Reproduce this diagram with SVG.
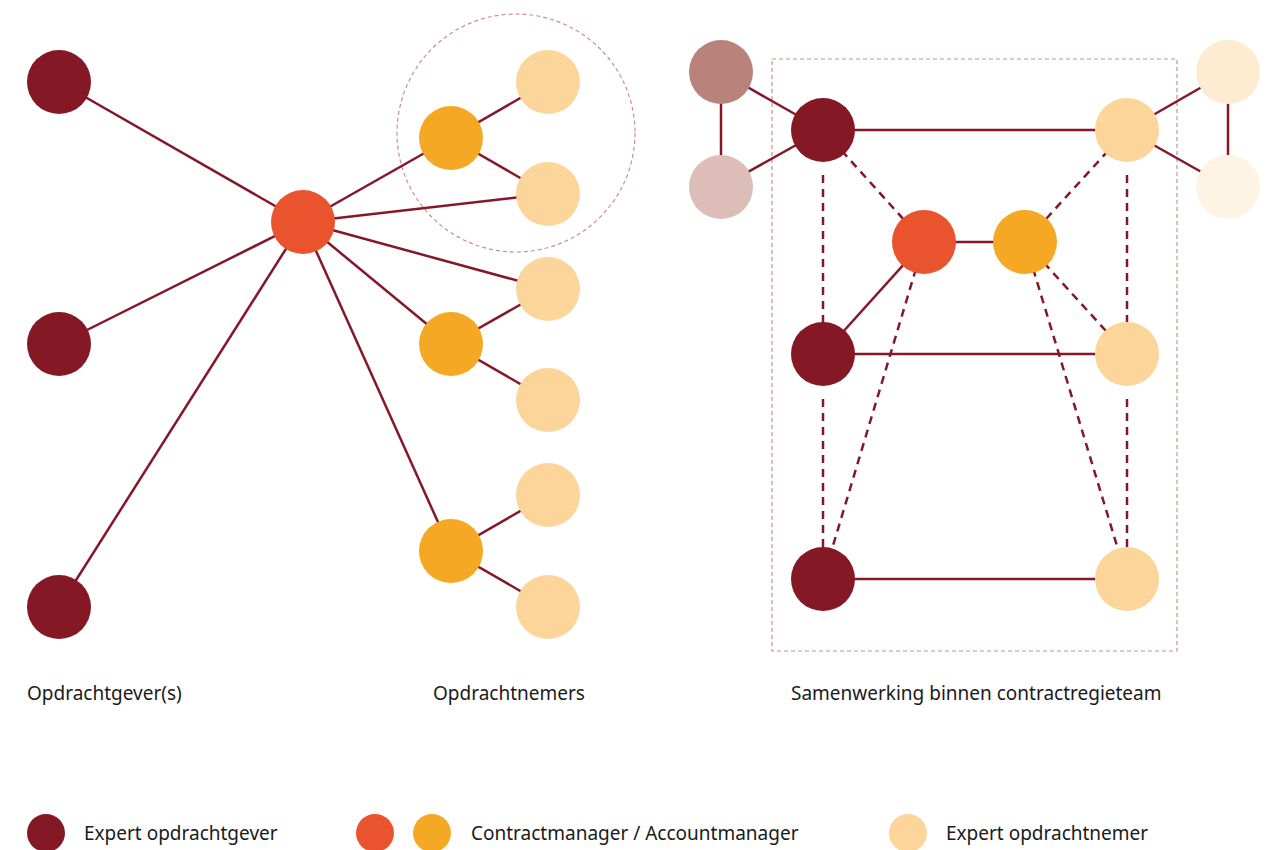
<svg xmlns="http://www.w3.org/2000/svg" width="1268" height="850" viewBox="0 0 1268 850">
<style>
.ln{stroke:#85172a;stroke-width:2.5;fill:none}
.ds{stroke:#85172a;stroke-width:2.5;fill:none;stroke-dasharray:8 6}
.bd{stroke:#c8908b;stroke-width:1.2;fill:none;stroke-dasharray:4 3}
.og{fill:#841824}
.cm{fill:#e9542e}
.am{fill:#f5a823}
.on{fill:#fcd59b}
text{font-family:"Noto Sans","Open Sans",sans-serif;font-size:19px;fill:#1a1a1a}
</style>
<rect width="1268" height="850" fill="#ffffff"/>
<g id="boundaries">
<circle class="bd" cx="516" cy="133" r="119"/>
<rect class="bd" x="772" y="59" width="405" height="592"/>
</g>
<g id="connectors">
<line class="ln" x1="303" y1="222" x2="59" y2="82"/>
<line class="ln" x1="303" y1="222" x2="59" y2="344"/>
<line class="ln" x1="303" y1="222" x2="59" y2="607"/>
<line class="ln" x1="303" y1="222" x2="451" y2="138"/>
<line class="ln" x1="303" y1="222" x2="548" y2="194"/>
<line class="ln" x1="303" y1="222" x2="548" y2="289"/>
<line class="ln" x1="303" y1="222" x2="451" y2="344"/>
<line class="ln" x1="303" y1="222" x2="451" y2="551"/>
<line class="ln" x1="451" y1="138" x2="548" y2="82"/>
<line class="ln" x1="451" y1="138" x2="548" y2="194"/>
<line class="ln" x1="451" y1="344" x2="548" y2="289"/>
<line class="ln" x1="451" y1="344" x2="548" y2="400"/>
<line class="ln" x1="451" y1="551" x2="548" y2="495"/>
<line class="ln" x1="451" y1="551" x2="548" y2="607"/>
<line class="ln" x1="721" y1="72" x2="721" y2="187"/>
<line class="ln" x1="721" y1="72" x2="823" y2="130"/>
<line class="ln" x1="721" y1="187" x2="823" y2="130"/>
<line class="ln" x1="1228" y1="72" x2="1228" y2="187"/>
<line class="ln" x1="1228" y1="72" x2="1127" y2="130"/>
<line class="ln" x1="1228" y1="187" x2="1127" y2="130"/>
<line class="ln" x1="823" y1="130" x2="1127" y2="130"/>
<line class="ln" x1="924" y1="242" x2="1025" y2="242"/>
<line class="ln" x1="924" y1="242" x2="823" y2="354"/>
<line class="ln" x1="823" y1="354" x2="1127" y2="354"/>
<line class="ln" x1="823" y1="579" x2="1127" y2="579"/>
<line class="ds" x1="823" y1="130" x2="924" y2="242"/>
<line class="ds" x1="1127" y1="130" x2="1025" y2="242"/>
<line class="ds" x1="823" y1="175" x2="823" y2="354"/>
<line class="ds" x1="1127" y1="175" x2="1127" y2="354"/>
<line class="ds" x1="823" y1="399" x2="823" y2="579"/>
<line class="ds" x1="1127" y1="399" x2="1127" y2="579"/>
<line class="ds" x1="924" y1="242" x2="823" y2="579"/>
<line class="ds" x1="1025" y1="242" x2="1127" y2="354"/>
<line class="ds" x1="1025" y1="242" x2="1127" y2="579"/>
</g>
<g id="og1"><circle class="og" cx="59" cy="82" r="32"/></g>
<g id="og2"><circle class="og" cx="59" cy="344" r="32"/></g>
<g id="og3"><circle class="og" cx="59" cy="607" r="32"/></g>
<g id="cm-center"><circle class="cm" cx="303" cy="222" r="32"/></g>
<g id="am1"><circle class="am" cx="451" cy="138" r="32"/></g>
<g id="am2"><circle class="am" cx="451" cy="344" r="32"/></g>
<g id="am3"><circle class="am" cx="451" cy="551" r="32"/></g>
<g id="on1"><circle class="on" cx="548" cy="82" r="32"/></g>
<g id="on2"><circle class="on" cx="548" cy="194" r="32"/></g>
<g id="on3"><circle class="on" cx="548" cy="289" r="32"/></g>
<g id="on4"><circle class="on" cx="548" cy="400" r="32"/></g>
<g id="on5"><circle class="on" cx="548" cy="495" r="32"/></g>
<g id="on6"><circle class="on" cx="548" cy="607" r="32"/></g>
<g id="faded-og1"><circle fill="#b9827a" cx="721" cy="72" r="32"/></g>
<g id="faded-og2"><circle fill="#dcbdb7" cx="721" cy="187" r="32"/></g>
<g id="faded-on1"><circle fill="#fdebd2" cx="1228" cy="72" r="32"/></g>
<g id="faded-on2"><circle fill="#fef4e6" cx="1228" cy="187" r="32"/></g>
<g id="r-og1"><circle class="og" cx="823" cy="130" r="32"/></g>
<g id="r-on1"><circle class="on" cx="1127" cy="130" r="32"/></g>
<g id="r-cm"><circle class="cm" cx="924" cy="242" r="32"/></g>
<g id="r-am"><circle class="am" cx="1025" cy="242" r="32"/></g>
<g id="r-og2"><circle class="og" cx="823" cy="354" r="32"/></g>
<g id="r-on2"><circle class="on" cx="1127" cy="354" r="32"/></g>
<g id="r-og3"><circle class="og" cx="823" cy="579" r="32"/></g>
<g id="r-on3"><circle class="on" cx="1127" cy="579" r="32"/></g>
<g id="labels">
<text x="27" y="700">Opdrachtgever(s)</text>
<text x="433" y="700">Opdrachtnemers</text>
<text x="791" y="700">Samenwerking binnen contractregieteam</text>
</g>
<g id="legend">
<circle class="og" cx="46" cy="833" r="19"/>
<text x="84" y="840">Expert opdrachtgever</text>
<circle class="cm" cx="375" cy="833" r="19"/>
<circle class="am" cx="432" cy="833" r="19"/>
<text x="471" y="840">Contractmanager / Accountmanager</text>
<circle class="on" cx="908" cy="833" r="19"/>
<text x="946" y="840">Expert opdrachtnemer</text>
</g>
</svg>
